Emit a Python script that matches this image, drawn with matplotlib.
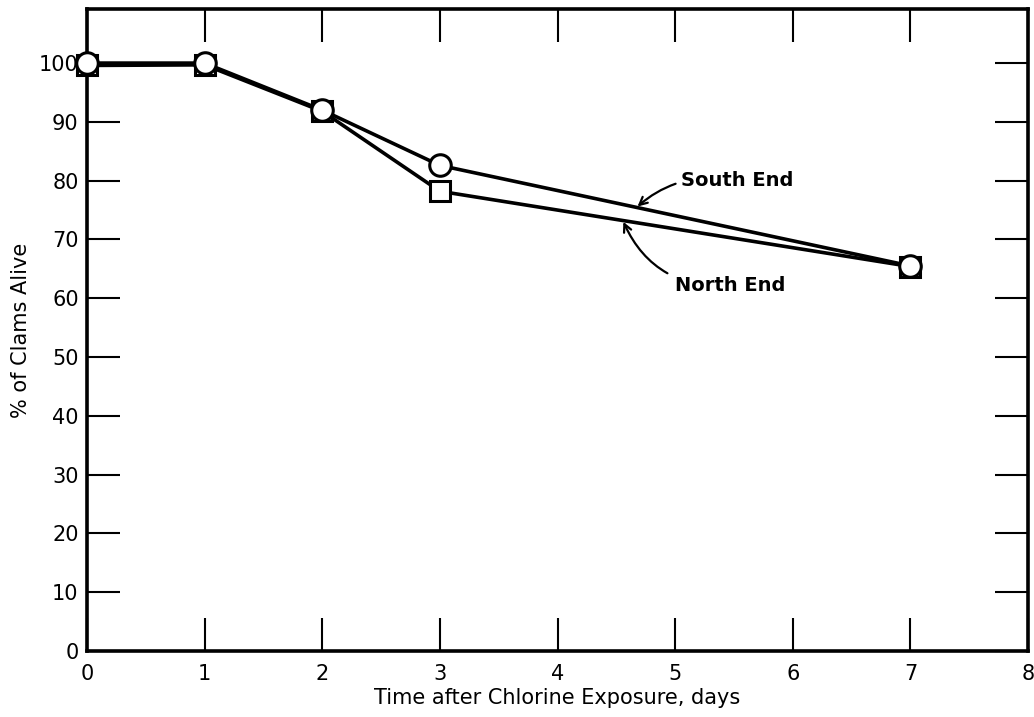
import matplotlib.pyplot as plt

# data
days = [0, 1, 2, 3, 7]
south_end = [100, 100, 92, 82.6, 65.5]   # circles
north_end = [99.6, 99.7, 91.8, 78.2, 65.4]  # squares

x_ticks = list(range(0, 9))
y_ticks = list(range(0, 101, 10))

fig = plt.figure(figsize=(10.34, 7.17), dpi=100)
ax = fig.add_axes([87/1034, 66/717, (1028-87)/1034, (651-9)/717])

lw = 2.6
ax.plot(days, north_end, color='black', linewidth=lw, marker='s', markersize=15,
        markerfacecolor='white', markeredgecolor='black', markeredgewidth=2.2,
        zorder=3, clip_on=False)
ax.plot(days, south_end, color='black', linewidth=lw, marker='o', markersize=15.5,
        markerfacecolor='white', markeredgecolor='black', markeredgewidth=2.2,
        zorder=4, clip_on=False)

ax.set_xlim(0, 8)
ax.set_ylim(0, 109.2)
ax.set_xticks(x_ticks)
ax.set_yticks(y_ticks)
ax.tick_params(direction='in', length=24, width=1.5, labelsize=15,
               top=True, right=True)
ax.tick_params(axis='x', pad=9)
ax.tick_params(axis='y', pad=6)
for s in ax.spines.values():
    s.set_linewidth(2.6)

ax.set_xlabel("Time after Chlorine Exposure, days", fontsize=15, labelpad=3)
ax.set_ylabel("% of Clams Alive", fontsize=15, labelpad=6)

ax.annotate("South End", xy=(4.68, 75.6), xytext=(5.05, 80.0), fontsize=14,
            va='center', ha='left', fontweight='bold',
            arrowprops=dict(arrowstyle='->', color='black', lw=1.6,
                            shrinkA=2, shrinkB=0,
                            connectionstyle='arc3,rad=0.25'))
ax.annotate("North End", xy=(4.56, 73.0), xytext=(5.0, 62.2), fontsize=14,
            va='center', ha='left', fontweight='bold',
            arrowprops=dict(arrowstyle='->', color='black', lw=1.6,
                            shrinkA=4, shrinkB=0,
                            connectionstyle='arc3,rad=-0.35'))

fig.savefig('out.png', dpi=100)
